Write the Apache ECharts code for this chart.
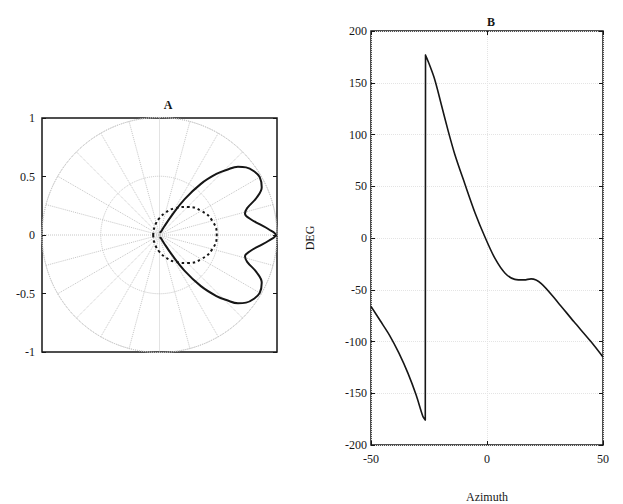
<!DOCTYPE html>
<html>
<head>
<meta charset="utf-8">
<script src="https://cdn.jsdelivr.net/npm/echarts@6/dist/echarts.min.js"></script>
<style>
  html, body { margin: 0; padding: 0; background: #fff; }
  #chart { width: 623px; height: 504px; }
</style>
</head>
<body>
<div id="chart"></div>
<script>
// Panel A: beam pattern magnitude (polar), angle in degrees
const patternAngles = [-90, -80, -70, -64, -61, -58, -55, -51, -47, -44, -41, -38, -34, -30, -25, -21, -17, -14, -10, -6, -3,
  0, 3, 6, 10, 14, 17, 21, 25, 30, 34, 38, 41, 44, 47, 51, 55, 58, 61, 64, 70, 80, 90];
const patternGain = [0.025, 0.025, 0.025, 0.035, 0.08, 0.19, 0.37, 0.56, 0.71, 0.80, 0.885, 0.935, 0.97, 0.985, 0.96, 0.885, 0.78, 0.75, 0.785, 0.86, 0.93,
  0.99, 0.93, 0.86, 0.785, 0.75, 0.78, 0.885, 0.96, 0.985, 0.97, 0.935, 0.885, 0.80, 0.71, 0.56, 0.37, 0.19, 0.08, 0.035, 0.025, 0.025, 0.025];

// Panel A: reference element pattern (dashed)
const elementAngles = [-180, -165, -150, -135, -120, -105, -90, -75, -60, -45, -30, -15,
  0, 15, 30, 45, 60, 75, 90, 105, 120, 135, 150, 165, 180];
const elementGain = [0.054, 0.055, 0.06, 0.068, 0.083, 0.107, 0.144, 0.197, 0.263, 0.338, 0.41, 0.465,
  0.487, 0.465, 0.41, 0.338, 0.263, 0.197, 0.144, 0.107, 0.083, 0.068, 0.06, 0.055, 0.054];

// Panel B: phase (DEG) versus azimuth
const azimuth = [-50, -46, -42, -38, -34, -30.5, -27.7, -26.6, -26.5, -22.8, -19.7, -16.8, -13.9, -9.5, -5.1, -0.7,
  3.5, 7.8, 12, 16, 19, 23.4, 30.5, 37.5, 44.6, 50];
const phaseDeg = [-66, -80, -94, -111, -131, -152, -172, -176, 177, 155, 129, 104, 81, 52, 24, 0,
  -20, -34, -40, -40.5, -39.5, -44, -62, -81, -99.6, -115];

// Tick values
const ticksA = [-1, -0.5, 0, 0.5, 1];
const ticksAzimuth = [-50, 0, 50];
const ticksDeg = [-200, -150, -100, -50, 0, 50, 100, 150, 200];

const font = 'Liberation Serif';
const ink = '#161616';
const gridGrey = '#c6c6c6';

const patternData = patternAngles.map((a, i) => [patternGain[i], a]);
const elementData = elementAngles.map((a, i) => [elementGain[i], a]);
const phaseData = azimuth.map((x, i) => [x, phaseDeg[i]]);

const step = (t) => t[1] - t[0];
const labelStyle = { color: ink, fontFamily: font, fontSize: 12 };
const hiddenLine = { show: false, onZero: false };
const innerTick = { show: true, inside: true, length: 4, lineStyle: { color: ink } };

const chart = echarts.init(document.getElementById('chart'), null, { renderer: 'svg' });
chart.setOption({
  animation: false,
  backgroundColor: '#fff',
  title: [
    { text: 'A', left: 163, top: 94, textAlign: 'center',
      textStyle: { color: ink, fontFamily: font, fontSize: 12, fontWeight: 'bold' } },
    { text: 'B', left: 486, top: 11, textAlign: 'center',
      textStyle: { color: ink, fontFamily: font, fontSize: 12, fontWeight: 'bold' } }
  ],
  grid: [
    { left: 42, top: 118, width: 235, height: 234, outerBoundsMode: 'none', containLabel: false,
      show: true, borderColor: ink, borderWidth: 1.5, backgroundColor: 'transparent' },
    { left: 371, top: 31, width: 232, height: 414, outerBoundsMode: 'none', containLabel: false,
      show: true, borderColor: ink, borderWidth: 1.5, backgroundColor: 'transparent' }
  ],
  polar: { center: [159.5, 235], radius: 117.5 },
  angleAxis: {
    type: 'value', min: -180, max: 180, interval: 15, startAngle: 180, clockwise: false,
    axisLine: { show: true, lineStyle: { color: gridGrey, type: 'dotted', width: 1 } },
    axisTick: { show: false }, axisLabel: { show: false },
    splitLine: { show: true, lineStyle: { color: gridGrey, type: 'dotted', width: 1 } }
  },
  radiusAxis: {
    type: 'value', min: 0, max: 1, interval: 0.5,
    axisLine: { show: false }, axisTick: { show: false }, axisLabel: { show: false },
    splitLine: { show: true, lineStyle: { color: gridGrey, type: 'dotted', width: 1 } }
  },
  xAxis: [
    { gridIndex: 0, type: 'value', min: ticksA[0], max: ticksA[ticksA.length - 1], interval: step(ticksA),
      axisLine: hiddenLine, axisTick: { show: false }, axisLabel: { show: false }, splitLine: { show: false } },
    { gridIndex: 1, type: 'value', position: 'bottom',
      min: ticksAzimuth[0], max: ticksAzimuth[ticksAzimuth.length - 1], interval: step(ticksAzimuth),
      name: 'Azimuth', nameLocation: 'middle', nameGap: 46, nameTextStyle: labelStyle,
      axisLine: hiddenLine, axisTick: innerTick,
      axisLabel: Object.assign({ margin: 8 }, labelStyle),
      splitLine: { show: true, lineStyle: { color: '#e4e4e4', type: 'dotted' } } },
    { gridIndex: 1, type: 'value', position: 'top',
      min: ticksAzimuth[0], max: ticksAzimuth[ticksAzimuth.length - 1], interval: step(ticksAzimuth),
      axisLine: hiddenLine, axisTick: innerTick, axisLabel: { show: false }, splitLine: { show: false } }
  ],
  yAxis: [
    { gridIndex: 0, type: 'value', position: 'left',
      min: ticksA[0], max: ticksA[ticksA.length - 1], interval: step(ticksA),
      axisLine: hiddenLine, axisTick: innerTick,
      axisLabel: Object.assign({ margin: 7 }, labelStyle),
      splitLine: { show: false } },
    { gridIndex: 0, type: 'value', position: 'right',
      min: ticksA[0], max: ticksA[ticksA.length - 1], interval: step(ticksA),
      axisLine: hiddenLine, axisTick: innerTick, axisLabel: { show: false }, splitLine: { show: false } },
    { gridIndex: 1, type: 'value', position: 'left',
      min: ticksDeg[0], max: ticksDeg[ticksDeg.length - 1], interval: step(ticksDeg),
      name: 'DEG', nameLocation: 'middle', nameGap: 55, nameRotate: 90, nameTextStyle: labelStyle,
      axisLine: hiddenLine, axisTick: innerTick,
      axisLabel: Object.assign({ margin: 4 }, labelStyle),
      splitLine: { show: true, lineStyle: { color: '#e4e4e4', type: 'dotted' } } },
    { gridIndex: 1, type: 'value', position: 'right',
      min: ticksDeg[0], max: ticksDeg[ticksDeg.length - 1], interval: step(ticksDeg),
      axisLine: hiddenLine, axisTick: innerTick, axisLabel: { show: false }, splitLine: { show: false } }
  ],
  series: [
    { type: 'line', coordinateSystem: 'polar', data: elementData, smooth: true, showSymbol: false,
      lineStyle: { color: ink, width: 2, type: [2.5, 3] }, z: 3 },
    { type: 'line', coordinateSystem: 'polar', data: patternData, smooth: 0.4, showSymbol: false,
      lineStyle: { color: ink, width: 2 }, z: 4 },
    { type: 'line', xAxisIndex: 1, yAxisIndex: 2, data: phaseData, smooth: 0.3, showSymbol: false,
      lineStyle: { color: ink, width: 1.6 }, z: 4 }
  ]
});
</script>
</body>
</html>
